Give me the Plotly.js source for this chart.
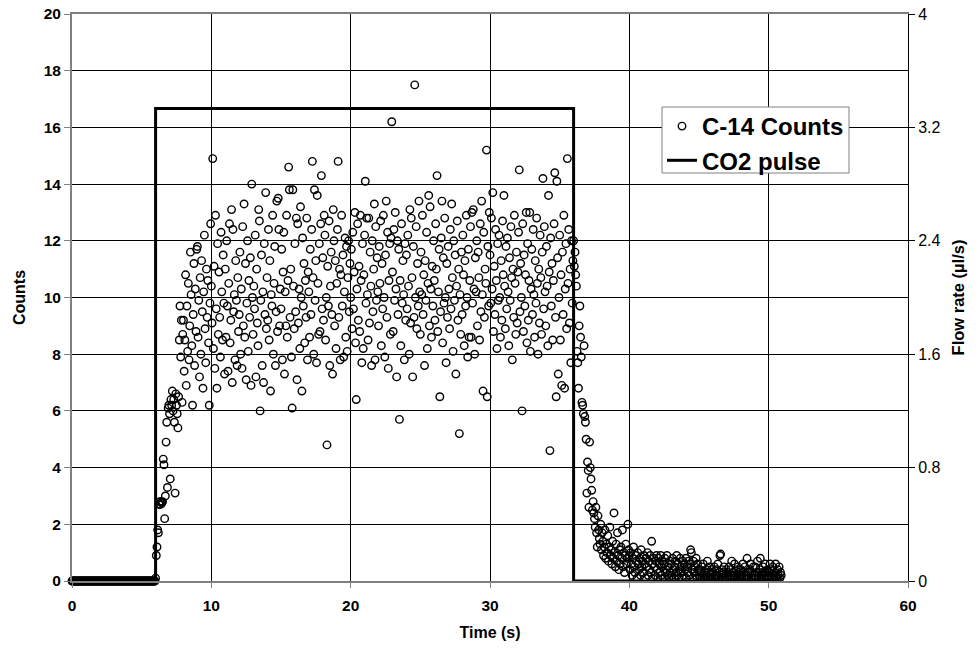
<!DOCTYPE html>
<html>
<head>
<meta charset="utf-8">
<script src="https://cdn.plot.ly/plotly-3.0.1.min.js"></script>
<style>html,body{margin:0;padding:0;background:#fff;}#chart{width:979px;height:651px;}</style>
</head>
<body>
<div id="chart"></div>
<script>
// ---- data ----
const sampleInterval = 0.05; // s between count samples

// 0 – 5.95 s : no counts
const countsBaseline = [
0,0,0,0,0,0,0,0,0,0,0,0,0,0,0,0,0,0,0,0,
0,0,0,0,0,0,0,0,0,0,0,0,0,0,0,0,0,0,0,0,
0,0,0,0,0,0,0,0,0,0,0,0,0,0,0,0,0,0,0,0,
0,0,0,0,0,0,0,0,0,0,0,0,0,0,0,0,0,0,0,0,
0,0,0,0,0,0,0,0,0,0,0,0,0,0,0,0,0,0,0,0,
0,0,0,0,0,0,0,0,0,0,0,0,0,0,0,0,0,0,0,0
];
const baselineStart = 0;

// 6 – 7.95 s : rise
const countsRise = [
0.1,0.9,1.2,1.8,1.7,2.7,2.8,2.7,2.8,2.75,2.8,4.3,4.1,2.2,3.0,4.9,5.6,3.3,6.1,6.2,
5.9,3.6,6.4,6.2,6.7,6.0,6.4,5.6,3.1,6.6,6.2,5.9,5.4,6.5,8.5,9.7,7.9,9.2,6.3,8.7
];
const riseStart = 6;

// 8 – 35.95 s : plateau
const countsPlateau = [
9.2,7.4,8.5,10.8,6.9,9.7,8.1,10.5,7.8,9.0,11.6,10.1,8.3,6.2,9.4,11.2,7.6,10.3,8.8,11.7,
11.8,8.6,9.9,7.2,10.7,8.0,11.3,9.5,6.8,10.2,12.2,8.9,7.7,11.0,9.3,10.6,8.4,6.2,9.8,12.6,
10.4,9.1,14.9,8.2,11.1,7.5,12.9,9.6,6.8,11.9,8.7,10.9,9.3,7.9,12.3,10.2,8.5,11.5,9.8,7.3,
11.0,8.6,12.0,9.7,7.4,10.5,12.6,8.4,9.2,13.1,7.0,12.4,9.5,10.1,7.8,11.3,9.9,7.6,10.7,8.8,
9.4,11.6,8.0,10.3,7.5,12.5,9.0,13.3,8.6,11.2,7.1,9.8,12.0,8.1,10.6,9.3,11.4,6.9,14.0,10.0,
8.7,10.4,9.6,12.2,7.2,11.0,9.1,8.3,13.1,12.7,6.0,9.9,11.5,7.6,10.2,7.0,11.9,9.4,13.7,8.9,
10.7,9.2,12.4,8.5,11.3,6.7,10.1,9.7,12.9,8.0,10.5,11.8,7.6,9.5,13.4,8.8,13.5,12.4,9.0,10.3,
9.6,11.7,7.8,10.9,12.3,7.3,10.2,9.0,12.9,8.6,10.6,14.6,13.8,9.3,11.0,7.9,6.1,13.8,10.4,8.9,
11.9,9.5,12.8,7.1,12.6,9.1,10.3,8.2,13.2,10.0,6.7,12.1,9.7,11.2,8.4,10.6,9.3,12.8,7.8,10.9,
10.2,8.6,11.7,9.4,12.4,14.8,10.7,8.0,13.8,9.9,11.3,7.7,13.6,10.5,8.7,11.9,8.8,12.6,14.3,9.6,
11.4,9.2,12.9,12.2,8.5,10.0,4.8,11.1,9.7,12.7,7.6,10.4,11.6,9.4,7.3,13.1,12.0,9.0,11.3,8.2,
10.5,12.4,14.8,9.3,11.0,7.8,10.8,12.9,9.7,11.5,7.9,10.2,12.1,8.6,11.8,8.1,10.7,12.0,9.5,11.2,
10.0,11.7,8.9,12.3,9.6,10.9,13.0,8.4,6.4,10.3,12.6,9.2,11.1,8.8,12.9,10.6,7.7,11.9,8.2,10.8,
12.2,14.1,9.8,12.8,10.1,8.5,12.8,9.1,11.6,10.4,7.6,12.0,9.5,11.0,13.3,7.8,12.5,9.9,11.4,10.2,
9.0,11.8,10.5,12.7,8.3,11.2,9.6,12.9,10.0,7.9,11.5,13.4,9.3,12.3,7.5,10.6,11.9,8.7,12.1,16.2,
10.9,8.8,12.4,9.9,13.0,10.3,7.2,12.0,9.4,11.7,5.7,10.6,8.3,12.6,9.8,11.3,10.1,7.8,11.9,9.2,
11.5,9.6,12.2,10.4,8.0,13.1,9.1,12.8,10.7,7.2,11.8,9.3,17.5,10.0,12.5,8.9,11.2,9.7,13.4,10.2,
8.7,11.6,10.1,12.9,9.4,10.8,7.6,11.3,9.9,12.3,8.2,10.5,13.6,9.0,13.2,10.3,8.6,11.1,9.7,12.0,
10.6,9.2,12.6,11.0,14.3,8.8,10.2,11.7,6.5,9.5,12.1,13.4,8.4,11.4,9.8,12.8,10.0,7.7,11.2,9.3,
11.8,10.3,8.9,12.4,9.6,13.3,10.7,8.1,12.0,9.9,11.5,7.3,10.4,12.7,9.2,11.0,5.2,10.1,8.7,11.6,
9.4,12.2,10.8,8.3,11.3,9.7,12.9,10.0,7.9,11.7,8.6,10.6,12.5,8.6,13.0,9.8,13.1,10.3,8.0,11.4,
10.2,12.0,9.0,11.6,10.7,8.5,12.6,9.5,13.4,10.1,6.7,12.3,9.3,11.0,10.5,15.2,6.5,11.8,9.7,13.0,
11.5,9.8,12.8,10.3,13.7,8.8,11.1,9.4,12.4,10.6,8.2,11.9,9.9,12.2,10.0,8.6,11.3,9.2,12.7,10.8,
13.6,10.4,8.9,11.8,9.6,12.1,10.2,8.3,11.4,9.9,12.5,10.7,7.8,11.0,9.3,12.9,10.5,8.7,11.6,9.1,
10.9,12.3,14.5,9.5,11.2,10.0,6.0,12.6,8.8,11.5,9.7,10.8,13.0,8.4,11.9,9.2,10.6,13.0,8.1,10.3,
11.7,9.4,12.4,10.1,8.6,11.3,9.8,12.8,10.5,8.0,11.0,9.1,12.2,10.7,8.7,11.6,14.2,9.6,12.5,10.2,
9.0,11.8,10.4,8.3,13.6,10.9,4.6,12.1,9.7,11.2,8.5,10.6,12.6,14.4,9.3,6.5,14.1,11.4,7.3,10.0,
12.2,8.5,10.8,6.9,11.6,9.4,12.9,6.8,10.3,11.9,8.9,14.9,10.5,12.4,9.1,11.0,7.7,12.0,9.8,11.3
];
const plateauStart = 8;

// 36 – 39.95 s : fall after the pulse ends
const countsFall = [
12.0,11.1,11.6,10.8,10.4,8.1,7.7,6.8,9.0,9.7,8.6,7.9,6.3,6.2,5.9,8.3,5.8,5.6,5.0,3.1,
4.2,3.9,2.6,4.9,4.0,3.6,3.2,2.5,2.8,2.4,2.2,1.9,2.6,1.7,1.2,2.3,1.8,1.5,1.3,2.0,
1.1,1.7,1.4,0.9,1.2,1.8,0.8,1.3,1.0,1.6,0.7,1.2,1.9,0.9,1.1,0.6,1.4,0.8,2.4,1.0,
0.5,1.3,0.7,1.7,0.9,0.4,1.1,0.6,1.2,0.8,1.8,0.5,1.0,0.3,0.9,1.3,0.6,0.8,2.0,1.1
];
const fallStart = 36;

// 40 – 50.9 s : tail
const countsTail = [
0.9,0.4,1.0,0.6,0.2,0.8,1.2,0.5,0.3,0.9,0.7,0.1,1.0,0.6,0.4,0.8,0.2,1.1,0.5,0.7,
0.3,0.9,0.6,0.1,0.8,0.5,1.0,0.2,0.7,0.4,0.9,0.3,1.4,0.6,0.1,0.8,0.5,0.2,0.7,0.9,
0.4,0.1,0.8,0.6,0.3,0.9,0.2,0.5,0.7,0.1,0.6,0.8,0.3,0.4,0.9,0.2,0.5,0.1,0.7,0.3,
0.6,0.2,0.8,0.4,0.1,0.5,0.7,0.3,0.9,0.2,0.6,0.1,0.4,0.8,0.3,0.5,0.1,0.7,0.2,0.6,
0.4,0.8,0.1,0.5,0.3,0.7,0.2,0.6,1.1,1.0,0.4,0.1,0.7,0.3,0.5,0.2,0.8,0.1,0.6,0.4,
0.2,0.4,0.1,0.3,0.5,0.1,0.6,0.2,0.3,0.1,0.4,0.2,0.7,0.1,0.3,0.5,0.1,0.2,0.4,0.1,
0.3,0.1,0.5,0.2,0.1,0.4,0.2,0.6,0.1,0.3,0.9,0.95,0.2,0.4,0.1,0.3,0.5,0.1,0.2,0.4,
0.1,0.3,0.2,0.5,0.1,0.4,0.2,0.7,0.1,0.3,0.2,0.6,0.1,0.4,0.2,0.1,0.5,0.3,0.1,0.2,
0.4,0.1,0.2,0.6,0.3,0.1,0.5,0.2,0.1,0.8,0.3,0.2,0.1,0.4,0.6,0.1,0.3,0.2,0.5,0.1,
0.2,0.5,0.1,0.3,0.7,0.2,0.1,0.4,0.8,0.2,0.1,0.3,0.5,0.1,0.2,0.6,0.3,0.1,0.4,0.2,
0.1,0.3,0.6,0.2,0.4,0.1,0.5,0.2,0.1,0.3,0.6,0.2,0.1,0.4,0.2,0.5,0.1,0.3,0.2
];
const tailStart = 40;

// CO2 pulse (flow rate, µl/s)
const pulseTime = [0, 6, 6, 36, 36, 51];
const pulseFlow = [0, 0, 3.333, 3.333, 0, 0];

// axis tick labels
const xTicks = [0, 10, 20, 30, 40, 50, 60];
const countTicks = [0, 2, 4, 6, 8, 10, 12, 14, 16, 18, 20];
const flowTicks = [0, 0.8, 1.6, 2.4, 3.2, 4];
const flowTickText = ['0', '0.8', '1.6', '2.4', '3.2', '4'];

// ---- build sample times for each segment ----
const time = [], counts = [];
[[baselineStart, countsBaseline], [riseStart, countsRise], [plateauStart, countsPlateau],
 [fallStart, countsFall], [tailStart, countsTail]].forEach(([start, vals]) => {
  vals.forEach((v, i) => { time.push(+(start + i * sampleInterval).toFixed(3)); counts.push(v); });
});

const FONT = 'Liberation Sans, Arial, sans-serif';
const bold = (s) => ({family: FONT, size: s, color: '#000', weight: 'bold'});

const traces = [
  {
    x: pulseTime, y: pulseFlow, yaxis: 'y', type: 'scatter', mode: 'lines',
    name: 'CO2 pulse', legendrank: 2,
    line: {color: '#000', width: 3, shape: 'linear'}
  },
  {
    x: time, y: counts, yaxis: 'y2', type: 'scatter', mode: 'markers',
    name: 'C-14 Counts', legendrank: 1, cliponaxis: false,
    marker: {symbol: 'circle-open', size: 7.5, color: '#000', line: {color: '#000', width: 1.4}}
  }
];

// legend frame in paper coordinates
const legX0 = (662 - 72) / 836, legX1 = (849 - 72) / 836;
const legY0 = 1 - (173 - 14) / 567, legY1 = 1 - (107 - 14) / 567;

const layout = {
  width: 979, height: 651,
  margin: {l: 72, r: 71, t: 14, b: 70, pad: 0},
  paper_bgcolor: '#fff', plot_bgcolor: '#fff',
  showlegend: true,
  legend: {
    x: legX0, y: legY1 + 3 / 567, xanchor: 'left', yanchor: 'top',
    bgcolor: 'rgba(0,0,0,0)', borderwidth: 0,
    font: bold(24), itemwidth: 30
  },
  shapes: [{
    type: 'rect', xref: 'paper', yref: 'paper', layer: 'above',
    x0: legX0, x1: legX1, y0: legY0, y1: legY1,
    fillcolor: '#fff', line: {color: '#808080', width: 1}
  }],
  xaxis: {
    range: [0, 60], tickvals: xTicks, ticktext: xTicks.map(String),
    showgrid: true, gridcolor: '#000', gridwidth: 1,
    showline: true, linecolor: '#808080', linewidth: 2, mirror: true,
    zeroline: false, ticks: 'outside', ticklen: 5, tickcolor: '#808080', tickwidth: 1,
    ticklabelstandoff: 4,
    tickfont: bold(15.5),
    title: {text: 'Time (s)', font: bold(16), standoff: 14}
  },
  yaxis: {
    side: 'right', range: [0, 4], tickvals: flowTicks, ticktext: flowTickText,
    showgrid: false, zeroline: false,
    showline: true, linecolor: '#000', linewidth: 1,
    ticks: 'outside', ticklen: 6, tickcolor: '#000', tickwidth: 1,
    tickfont: {family: FONT, size: 16, color: '#000'},
    title: {text: 'Flow rate (µl/s)', font: bold(16.5), standoff: 12}
  },
  yaxis2: {
    overlaying: 'y', side: 'left', range: [0, 20], tickvals: countTicks, ticktext: countTicks.map(String),
    showgrid: true, gridcolor: '#000', gridwidth: 1, zeroline: false,
    showline: true, linecolor: '#808080', linewidth: 2,
    ticks: 'outside', ticklen: 6, tickcolor: '#808080', tickwidth: 1,
    tickfont: bold(15.5),
    title: {text: 'Counts', font: bold(16), standoff: 14}
  }
};

Plotly.newPlot('chart', traces, layout, {displayModeBar: false, staticPlot: true});
</script>
</body>
</html>
